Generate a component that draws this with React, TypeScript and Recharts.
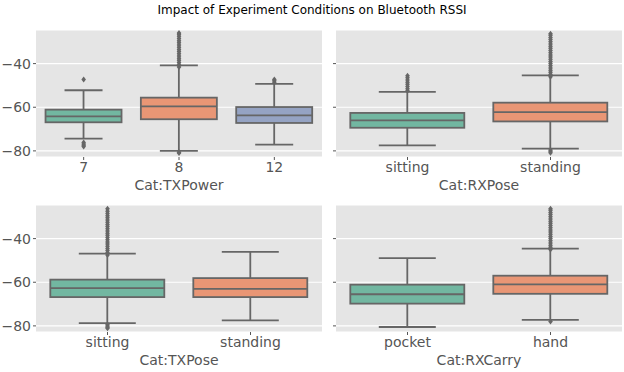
import React from 'react';
import { ComposedChart, Bar, Scatter, XAxis, YAxis, CartesianGrid, Cell } from 'recharts';

const yTicks = [-80, -60, -40];
const yDomain = [-82.8, -24.6];
const boxFills = ['#72b7a1', '#e99675', '#95a3c3'];
const lineColor = '#666666';

// Cat:TXPower
const txPowerCats = ['7', '8', '12'];
const txPowerLo = [-74.4, -80, -77.1];
const txPowerQ1 = [-66.9, -65.5, -67.2];
const txPowerMed = [-64.2, -59.6, -63.7];
const txPowerQ3 = [-61.1, -55.6, -59.9];
const txPowerHi = [-52.2, -40.8, -49.3];
const txPowerOut7 = [-47.3, -76.2, -76.8, -77.4, -78.0];
const txPowerOut8 = [
  -41.5, -40.5, -39.5, -38.5, -37.5, -36.5, -35.5, -34.5, -33.5, -32.5, -31.5, -30.5, -29.5,
  -28.5, -27.5, -26.5, -26, -80.6, -81,
];
const txPowerOut12 = [-47.3, -47.9, -48.5];

// Cat:RXPose
const rxPoseCats = ['sitting', 'standing'];
const rxPoseLo = [-77.5, -79];
const rxPoseQ1 = [-69.4, -66.5];
const rxPoseMed = [-66, -62.2];
const rxPoseQ3 = [-62.6, -57.9];
const rxPoseHi = [-53, -45.4];
const rxPoseOutSitting = [-45.6, -46.5, -47.5, -48.5, -49.5, -50.5, -51.5, -52.4];
const rxPoseOutStanding = [
  -46, -45, -44, -43, -42, -41, -40, -39, -38, -37, -36, -35, -34, -33, -32, -31, -30, -29,
  -28, -27, -26.3, -79.6, -80.2, -80.8,
];

// Cat:TXPose
const txPoseCats = ['sitting', 'standing'];
const txPoseLo = [-78.7, -77.5];
const txPoseQ1 = [-66.8, -66.8];
const txPoseMed = [-62.7, -63];
const txPoseQ3 = [-58.8, -58.1];
const txPoseHi = [-46.9, -46.1];
const txPoseOutSitting = [
  -47.5, -46.5, -45.5, -44.5, -43.5, -42.5, -41.5, -40.5, -39.5, -38.5, -37.5, -36.5, -35.5,
  -34.5, -33.5, -32.5, -31.5, -30.5, -29.5, -28.5, -27.5, -26.3, -79.4, -80, -80.6, -81.1,
];
const txPoseOutStanding: number[] = [];

// Cat:RXCarry
const rxCarryCats = ['pocket', 'hand'];
const rxCarryLo = [-80.5, -77.2];
const rxCarryQ1 = [-69.8, -65.3];
const rxCarryMed = [-65.5, -61];
const rxCarryQ3 = [-61.1, -57];
const rxCarryHi = [-48.9, -44.6];
const rxCarryOutPocket: number[] = [];
const rxCarryOutHand = [
  -45, -44, -43, -42, -41, -40, -39, -38, -37, -36, -35, -34, -33, -32, -31, -30, -29, -28,
  -27, -26.3, -78,
];

type BoxRow = { cat: string; lo: number; q1: number; med: number; q3: number; hi: number };

function makeBoxes(cats: string[], lo: number[], q1: number[], med: number[], q3: number[], hi: number[]): BoxRow[] {
  return cats.map((cat, i) => ({ cat, lo: lo[i], q1: q1[i], med: med[i], q3: q3[i], hi: hi[i] }));
}

function makeOutliers(cats: string[], lists: number[][]) {
  const out: { cat: string; v: number }[] = [];
  cats.forEach((cat, i) => lists[i].forEach((v) => out.push({ cat, v })));
  return out;
}

// whiskers span the bar (lo..hi); box and median are placed on the same linear scale
function BoxShape(props: any) {
  const { x, y, width, height, payload, fill } = props;
  const k = height / (payload.hi - payload.lo);
  const py = (v: number) => y + (payload.hi - v) * k;
  const cx = x + width / 2;
  const cap = width * 0.25;
  return (
    <g>
      <line x1={cx} x2={cx} y1={py(payload.hi)} y2={py(payload.q3)} stroke={lineColor} strokeWidth={1.8} />
      <line x1={cx} x2={cx} y1={py(payload.q1)} y2={py(payload.lo)} stroke={lineColor} strokeWidth={1.8} />
      <line x1={cx - cap} x2={cx + cap} y1={py(payload.hi)} y2={py(payload.hi)} stroke={lineColor} strokeWidth={1.8} />
      <line x1={cx - cap} x2={cx + cap} y1={py(payload.lo)} y2={py(payload.lo)} stroke={lineColor} strokeWidth={1.8} />
      <rect
        x={x}
        y={py(payload.q3)}
        width={width}
        height={py(payload.q1) - py(payload.q3)}
        fill={fill}
        stroke={lineColor}
        strokeWidth={1.8}
      />
      <line x1={x} x2={x + width} y1={py(payload.med)} y2={py(payload.med)} stroke={lineColor} strokeWidth={1.8} />
    </g>
  );
}

function Diamond(props: any) {
  const { cx, cy } = props;
  return <path d={`M${cx},${cy - 3}L${cx + 2.3},${cy}L${cx},${cy + 3}L${cx - 2.3},${cy}Z`} fill={lineColor} />;
}

interface PanelProps {
  boxes: BoxRow[];
  outliers: { cat: string; v: number }[];
  xLabel: string;
  showYLabels: boolean;
  left: number;
  top: number;
  width: number;
}

function Panel({ boxes, outliers, xLabel, showYLabels, left, top, width }: PanelProps) {
  return (
    <div style={{ position: 'absolute', left, top }}>
      <ComposedChart
        width={width}
        height={175}
        data={boxes}
        barCategoryGap="10%"
        margin={{ top: 8, right: showYLabels ? 8 : 2, left: 6, bottom: 0 }}
      >
        <CartesianGrid vertical={false} stroke="#ffffff" strokeWidth={1.2} fill="#e5e5e5" fillOpacity={1} />
        <XAxis
          dataKey="cat"
          type="category"
          allowDuplicatedCategory={false}
          axisLine={false}
          tickLine={{ stroke: '#555555' }}
          tickSize={3}
          tick={{ fill: '#555555', fontSize: 14 }}
          height={40}
          label={{ value: xLabel, position: 'insideBottom', offset: 7, fill: '#555555', fontSize: 14 }}
        />
        <YAxis
          type="number"
          domain={yDomain}
          ticks={yTicks}
          allowDataOverflow
          axisLine={false}
          tickLine={{ stroke: '#555555' }}
          tickSize={3}
          width={showYLabels ? 30 : 10}
          tick={{ fill: '#555555', fontSize: 14 }}
          tickFormatter={(v: number) => (showYLabels ? `\u2212${Math.abs(v)}` : '')}
        />
        <Bar dataKey={(d: BoxRow) => [d.lo, d.hi]} shape={BoxShape} isAnimationActive={false}>
          {boxes.map((b, i) => (
            <Cell key={b.cat} fill={boxFills[i]} />
          ))}
        </Bar>
        <Scatter data={outliers} dataKey="v" shape={Diamond} isAnimationActive={false} />
      </ComposedChart>
    </div>
  );
}

export default function App() {
  return (
    <div
      style={{
        position: 'absolute',
        left: 0,
        top: 0,
        width: 624,
        height: 372,
        background: '#ffffff',
        fontFamily: 'DejaVu Sans, sans-serif',
      }}
    >
      <div
        style={{
          position: 'absolute',
          left: 0,
          top: 3,
          width: 624,
          textAlign: 'center',
          fontSize: 12,
          color: '#000',
        }}
      >
        Impact of Experiment Conditions on Bluetooth RSSI
      </div>
      <Panel
        boxes={makeBoxes(txPowerCats, txPowerLo, txPowerQ1, txPowerMed, txPowerQ3, txPowerHi)}
        outliers={makeOutliers(txPowerCats, [txPowerOut7, txPowerOut8, txPowerOut12])}
        xLabel="Cat:TXPower"
        showYLabels
        left={0}
        top={22}
        width={330}
      />
      <Panel
        boxes={makeBoxes(rxPoseCats, rxPoseLo, rxPoseQ1, rxPoseMed, rxPoseQ3, rxPoseHi)}
        outliers={makeOutliers(rxPoseCats, [rxPoseOutSitting, rxPoseOutStanding])}
        xLabel="Cat:RXPose"
        showYLabels={false}
        left={320}
        top={22}
        width={304}
      />
      <Panel
        boxes={makeBoxes(txPoseCats, txPoseLo, txPoseQ1, txPoseMed, txPoseQ3, txPoseHi)}
        outliers={makeOutliers(txPoseCats, [txPoseOutSitting, txPoseOutStanding])}
        xLabel="Cat:TXPose"
        showYLabels
        left={0}
        top={197}
        width={330}
      />
      <Panel
        boxes={makeBoxes(rxCarryCats, rxCarryLo, rxCarryQ1, rxCarryMed, rxCarryQ3, rxCarryHi)}
        outliers={makeOutliers(rxCarryCats, [rxCarryOutPocket, rxCarryOutHand])}
        xLabel="Cat:RXCarry"
        showYLabels={false}
        left={320}
        top={197}
        width={304}
      />
    </div>
  );
}
